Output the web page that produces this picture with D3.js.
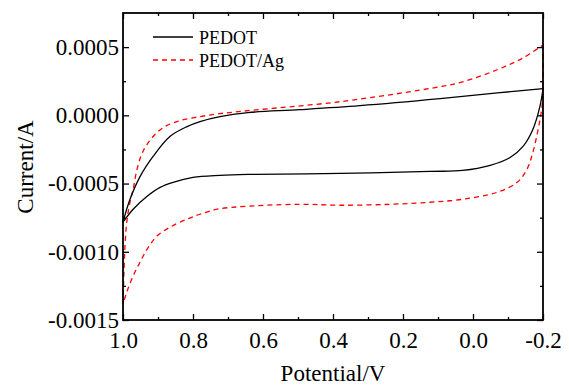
<!DOCTYPE html>
<html>
<head>
<meta charset="utf-8">
<script src="https://cdn.jsdelivr.net/npm/d3@7"></script>
<style>
  body { margin: 0; background: #fff; }
  svg { display: block; font-family: "Liberation Serif", "Times New Roman", serif; }
</style>
</head>
<body>
<div id="chart"></div>
<script>
// potential (V) / current (A), each loop traced from 1.0 V out to -0.2 V and back
var pedotPotential = [1.0, 0.98, 0.951, 0.914, 0.866, 0.817, 0.78, 0.723, 0.643, 0.494, 0.323, 0.094, -0.077, -0.2,
  -0.191, -0.171, -0.143, -0.106, -0.049, 0.029, 0.123, 0.38, 0.643, 0.723, 0.8, 0.857, 0.894, 0.931, 0.971, 1.0];
var pedotCurrent = [-0.000783, -0.000615, -0.000447, -0.000301, -0.000155, -0.0000825, -0.000046, -0.0000095, 0.0000197, 0.0000416, 0.0000708, 0.000122, 0.000166, 0.000195,
  0.0000635, -0.000104, -0.000228, -0.000309, -0.000367, -0.000404, -0.000411, -0.000426, -0.000433, -0.00044, -0.000455, -0.000491, -0.000528, -0.000593, -0.000688, -0.000783];

var agPotential = [1.0, 0.997, 0.994, 0.989, 0.98, 0.971, 0.96, 0.943, 0.914, 0.88, 0.837, 0.78, 0.723, 0.643, 0.38, 0.094, 0.029, -0.069, -0.143, -0.2,
  -0.2, -0.197, -0.186, -0.171, -0.154, -0.126, -0.069, 0.029, 0.123, 0.237, 0.38, 0.494, 0.643, 0.731, 0.78, 0.817, 0.866, 0.903, 0.931, 0.951, 0.971, 0.989, 1.0];
var agCurrent = [-0.001382, -0.001126, -0.000944, -0.000776, -0.000637, -0.000542, -0.000396, -0.000265, -0.000155, -0.0000825, -0.0000387, -0.0000095, 0.0000124, 0.0000343, 0.0001, 0.00021, 0.000246, 0.000334, 0.000421, 0.000516,
  0.000224, 0.0000635, -0.000104, -0.000272, -0.000396, -0.000491, -0.000564, -0.000615, -0.000637, -0.000652, -0.000659, -0.000652, -0.000666, -0.000688, -0.000725, -0.000761, -0.00082, -0.000885, -0.00098, -0.001075, -0.001177, -0.001294, -0.001382];

var xTicks = [1.0, 0.8, 0.6, 0.4, 0.2, 0.0, -0.2];
var xMinor = [0.9, 0.7, 0.5, 0.3, 0.1, -0.1];
var yTicks = [0.0005, 0.0, -0.0005, -0.0010, -0.0015];
var yMinor = [0.00025, -0.00025, -0.00075, -0.00125];
var legendNames = ["PEDOT", "PEDOT/Ag"];

var W = 569, H = 385;
var plotLeft = 123, plotRight = 543, plotTop = 13, plotBottom = 320;

var svg = d3.select("#chart").append("svg")
  .attr("width", W)
  .attr("height", H);

var x = d3.scaleLinear().domain([1.0, -0.2]).range([plotLeft, plotRight]);
var y = d3.scaleLinear().domain([-0.0015, 0.00075]).range([plotBottom, plotTop]);

var line = d3.line()
  .x(function (d) { return x(d[0]); })
  .y(function (d) { return y(d[1]); })
  .curve(d3.curveCatmullRom.alpha(0.5));

// split a loop into sweeps at every point where the potential sits at the -0.2 V vertex,
// so the smoothing does not round the sharp turn there
function sweeps(pot, cur) {
  var pts = d3.zip(pot, cur), out = [], seg = [pts[0]];
  for (var i = 1; i < pts.length; i++) {
    seg.push(pts[i]);
    if (pts[i][0] === -0.2 && i < pts.length - 1) { out.push(seg); seg = [pts[i]]; }
  }
  out.push(seg);
  return out;
}

function drawSeries(pot, cur, color, dash) {
  svg.append("g").selectAll("path")
    .data(sweeps(pot, cur))
    .join("path")
    .attr("d", function (d) { return line(d); })
    .attr("fill", "none")
    .attr("stroke", color)
    .attr("stroke-width", 1.3)
    .attr("stroke-dasharray", dash);
}

drawSeries(agPotential, agCurrent, "#ff0000", "5,4");
drawSeries(pedotPotential, pedotCurrent, "#000", null);

// axes, ticks point inwards, mirrored on top / right
function fmtY(d) { return Math.abs(d) < 1e-12 ? "0.0000" : d.toFixed(4); }
function fmtX(d) { return Math.abs(d) < 1e-12 ? "0.0" : d.toFixed(1); }

function addAxis(axis, tx, ty) {
  return svg.append("g")
    .attr("transform", "translate(" + tx + "," + ty + ")")
    .call(axis)
    .attr("font-family", null)
    .attr("font-size", null);
}

var bottomAxis = addAxis(d3.axisBottom(x).tickValues(xTicks).tickSizeInner(-6).tickSizeOuter(0).tickPadding(12).tickFormat(fmtX), 0, plotBottom);
bottomAxis.selectAll("text").attr("font-size", 23).attr("fill", "#000");
addAxis(d3.axisBottom(x).tickValues(xMinor).tickSizeInner(-3).tickSizeOuter(0).tickFormat(""), 0, plotBottom);

addAxis(d3.axisTop(x).tickValues(xTicks).tickSizeInner(-6).tickSizeOuter(0).tickFormat(""), 0, plotTop);
addAxis(d3.axisTop(x).tickValues(xMinor).tickSizeInner(-3).tickSizeOuter(0).tickFormat(""), 0, plotTop);

var leftAxis = addAxis(d3.axisLeft(y).tickValues(yTicks).tickSizeInner(-6).tickSizeOuter(0).tickPadding(4).tickFormat(fmtY), plotLeft, 0);
leftAxis.selectAll("text").attr("font-size", 23).attr("fill", "#000");
addAxis(d3.axisLeft(y).tickValues(yMinor).tickSizeInner(-3).tickSizeOuter(0).tickFormat(""), plotLeft, 0);

addAxis(d3.axisRight(y).tickValues(yTicks).tickSizeInner(-6).tickSizeOuter(0).tickFormat(""), plotRight, 0);
addAxis(d3.axisRight(y).tickValues(yMinor).tickSizeInner(-3).tickSizeOuter(0).tickFormat(""), plotRight, 0);

svg.selectAll(".domain").attr("stroke", "none");
svg.selectAll(".tick line").attr("stroke", "#000").attr("stroke-width", 1.3);

// frame
svg.append("rect")
  .attr("x", plotLeft)
  .attr("y", plotTop)
  .attr("width", plotRight - plotLeft)
  .attr("height", plotBottom - plotTop)
  .attr("fill", "none")
  .attr("stroke", "#000")
  .attr("stroke-width", 1.8);

// axis titles
svg.append("text")
  .attr("x", (plotLeft + plotRight) / 2)
  .attr("y", 381)
  .attr("text-anchor", "middle")
  .attr("font-size", 23)
  .text("Potential/V");

svg.append("text")
  .attr("transform", "translate(33," + 167 + ") rotate(-90)")
  .attr("text-anchor", "middle")
  .attr("font-size", 23)
  .text("Current/A");

// legend
var legend = svg.append("g");
var legendStyles = [
  { color: "#000", dash: null },
  { color: "#ff0000", dash: "5,4" }
];
legendNames.forEach(function (name, i) {
  var ly = 37 + i * 23;
  legend.append("line")
    .attr("x1", 153).attr("x2", 193)
    .attr("y1", ly).attr("y2", ly)
    .attr("stroke", legendStyles[i].color)
    .attr("stroke-width", 1.3)
    .attr("stroke-dasharray", legendStyles[i].dash);
  legend.append("text")
    .attr("x", 199)
    .attr("y", ly + 7)
    .attr("font-size", 18)
    .text(name);
});
</script>
</body>
</html>
